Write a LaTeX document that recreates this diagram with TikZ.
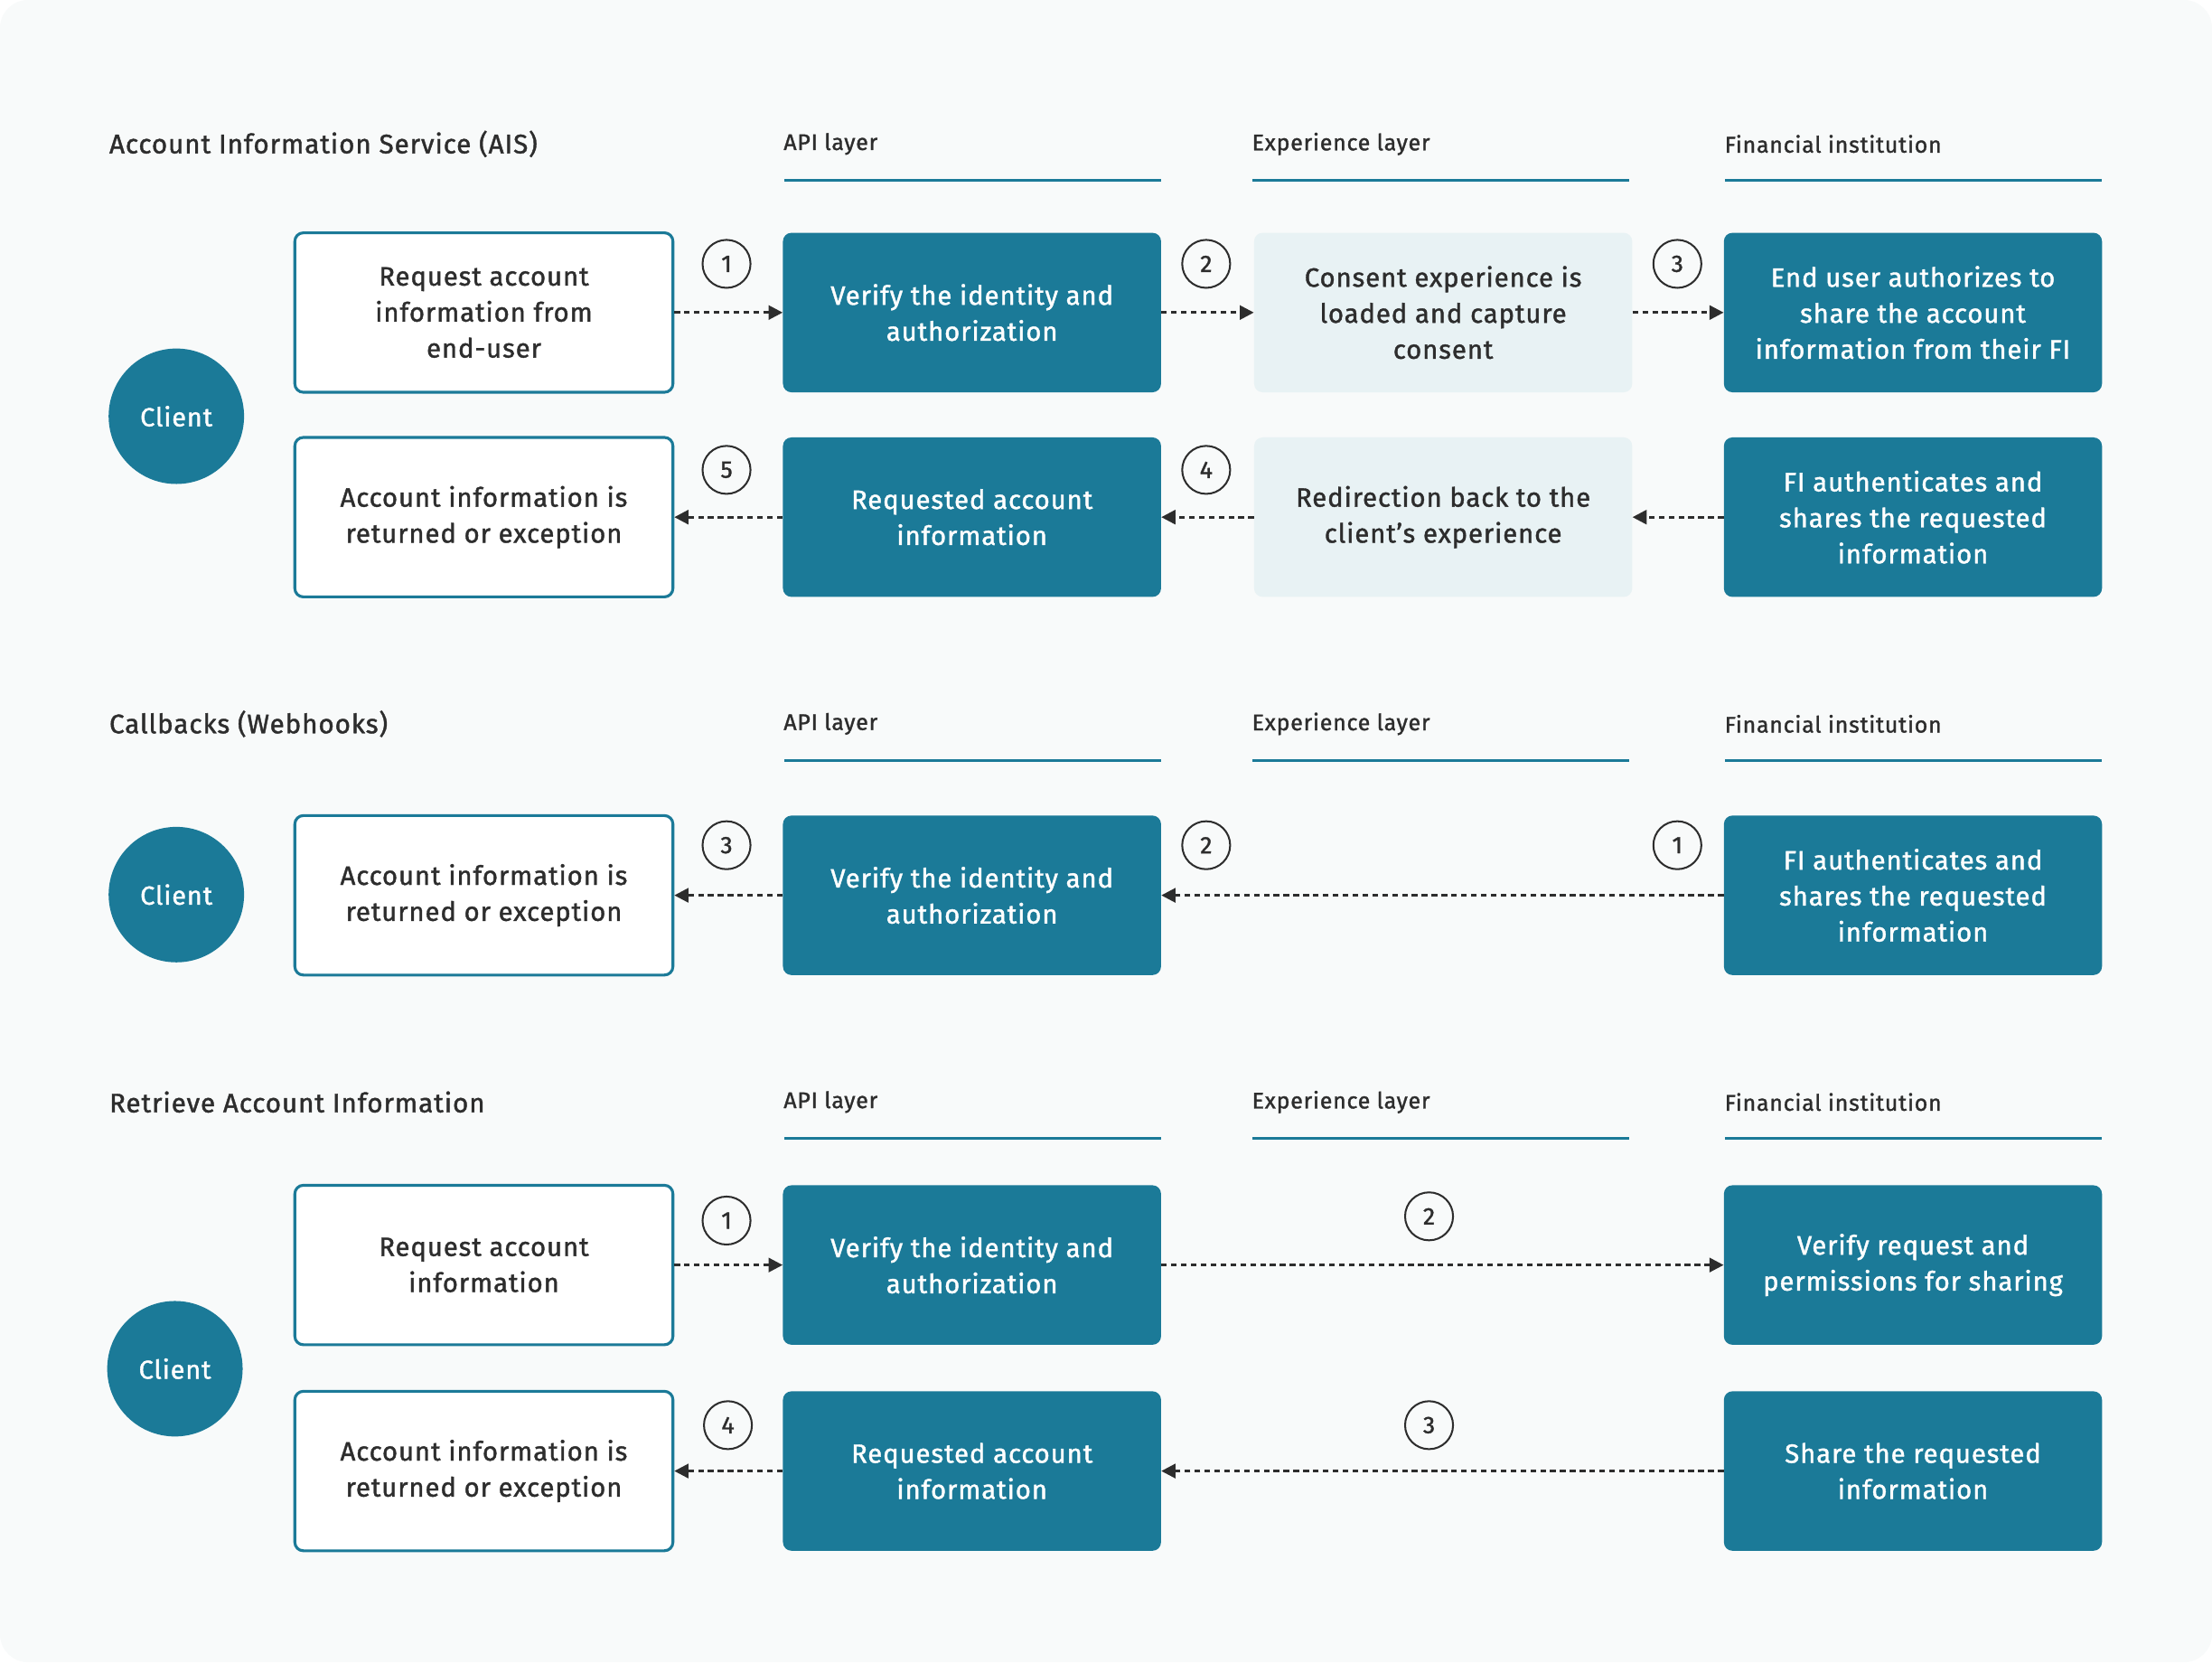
\documentclass[tikz,border=0pt]{standalone}
\usepackage{fontspec}
\setmainfont{Fira Sans}[LetterSpace=3, BoldFont={Fira Sans}, BoldFeatures={FakeBold=1.3}]
\usetikzlibrary{positioning, arrows.meta}
\definecolor{tealdark}{RGB}{27, 122, 152}
\definecolor{teallight}{RGB}{232, 242, 244}
\definecolor{inkgray}{RGB}{45, 45, 45}
\definecolor{pagebg}{RGB}{248, 250, 250}

\tikzset{
    box/.style={rounded corners=6pt, minimum width=268pt, minimum height=113pt,
        align=center, font=\fontsize{18.8}{25.5}\selectfont\bfseries},
    dark/.style={box, fill=tealdark, text=white},
    light/.style={box, fill=teallight, text=inkgray},
    outline/.style={box, draw=tealdark, line width=2pt, fill=white, text=inkgray},
    client/.style={circle, fill=tealdark, minimum size=96pt, text=white,
        font=\fontsize{18.5}{22}\selectfont\bfseries},
    stepnum/.style={circle, draw=inkgray, line width=1.3pt, minimum size=34pt,
        inner sep=0pt, text=inkgray, font=\fontsize{17}{20}\selectfont\bfseries},
    flow/.style={-{Triangle[length=10pt, width=10pt]}, dashed, dash pattern=on 4pt off 3pt,
        line width=1.8pt, inkgray},
    title/.style={anchor=west, text=inkgray, font=\fontsize{19}{22}\selectfont\bfseries},
    colhead/.style={anchor=west, text=inkgray, font=\fontsize{16}{20}\selectfont\bfseries},
}

\begin{document}
\begin{tikzpicture}[x=1pt, y=-1pt]
    % Background
    \fill[white] (0,0) rectangle (1568,1178);
    \fill[pagebg, rounded corners=20pt] (0,0) rectangle (1568,1178);

    % Section titles and column headers
    \foreach \ty/\tx in {102/Account Information Service (AIS), 513/Callbacks (Webhooks),
                         781/Retrieve Account Information} {
        \node[title] at (74,\ty) {\tx};
    }
    \foreach \hy in {102, 513, 781} {
        \node[colhead] at (552,\hy) {API layer};
        \node[colhead] at (884,\hy) {Experience layer};
        \node[colhead] at (1219,\hy) {Financial institution};
        \draw[tealdark, line width=2pt] (556,\hy+26) -- (823,\hy+26);
        \draw[tealdark, line width=2pt] (888,\hy+26) -- (1155,\hy+26);
        \draw[tealdark, line width=2pt] (1223,\hy+26) -- (1490,\hy+26);
    }

    % AIS
    \node[client] (aisclient) at (125,295) {Client};
    \node[outline] (aisreq) at (343,221.5) {Request account\\information from\\end-user};
    \node[dark] (aisverify) at (689,221.5) {Verify the identity and\\authorization};
    \node[light] (aisconsent) at (1023,221.5) {Consent experience is\\loaded and capture\\consent};
    \node[dark] (aisauth) at (1356,221.5) {End user authorizes to\\share the account\\information from their FI};
    \node[outline] (aisret) at (343,366.5) {Account information is\\returned or exception};
    \node[dark] (aisinfo) at (689,366.5) {Requested account\\information};
    \node[light] (aisredir) at (1023,366.5) {Redirection back to the\\client's experience};
    \node[dark] (aisshare) at (1356,366.5) {FI authenticates and\\shares the requested\\information};
    \draw[flow] (aisreq) -- (aisverify);
    \draw[flow] (aisverify) -- (aisconsent);
    \draw[flow] (aisconsent) -- (aisauth);
    \draw[flow] (aisshare) -- (aisredir);
    \draw[flow] (aisredir) -- (aisinfo);
    \draw[flow] (aisinfo) -- (aisret);
    \node[stepnum] (ais1) at (515,187) {1};
    \node[stepnum] (ais2) at (855,187) {2};
    \node[stepnum] (ais3) at (1189,187) {3};
    \node[stepnum] (ais4) at (855,333) {4};
    \node[stepnum] (ais5) at (515,333) {5};

    % Callbacks
    \node[client] (cbclient) at (125,634) {Client};
    \node[outline] (cbret) at (343,634.5) {Account information is\\returned or exception};
    \node[dark] (cbverify) at (689,634.5) {Verify the identity and\\authorization};
    \node[dark] (cbshare) at (1356,634.5) {FI authenticates and\\shares the requested\\information};
    \draw[flow] (cbshare) -- (cbverify);
    \draw[flow] (cbverify) -- (cbret);
    \node[stepnum] (cb1) at (1189,599) {1};
    \node[stepnum] (cb2) at (855,599) {2};
    \node[stepnum] (cb3) at (515,599) {3};

    % Retrieve
    \node[client] (rtclient) at (124,970) {Client};
    \node[outline] (rtreq) at (343,896.5) {Request account\\information};
    \node[dark] (rtverify) at (689,896.5) {Verify the identity and\\authorization};
    \node[dark] (rtperm) at (1356,896.5) {Verify request and\\permissions for sharing};
    \node[outline] (rtret) at (343,1042.5) {Account information is\\returned or exception};
    \node[dark] (rtinfo) at (689,1042.5) {Requested account\\information};
    \node[dark] (rtshare) at (1356,1042.5) {Share the requested\\information};
    \draw[flow] (rtreq) -- (rtverify);
    \draw[flow] (rtverify) -- (rtperm);
    \draw[flow] (rtshare) -- (rtinfo);
    \draw[flow] (rtinfo) -- (rtret);
    \node[stepnum] (rt1) at (515,865) {1};
    \node[stepnum] (rt2) at (1013,862) {2};
    \node[stepnum] (rt3) at (1013,1010) {3};
    \node[stepnum] (rt4) at (516,1010) {4};
\end{tikzpicture}
\end{document}
